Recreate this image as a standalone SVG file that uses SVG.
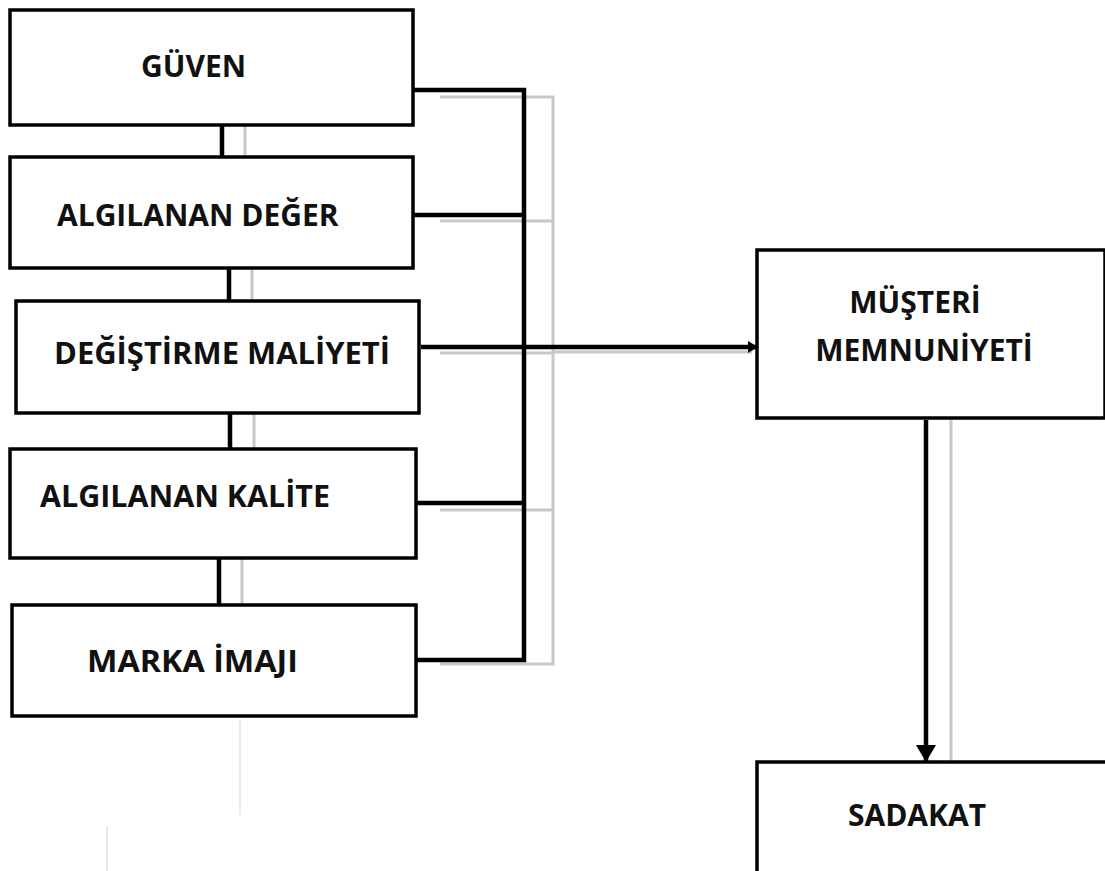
<svg xmlns="http://www.w3.org/2000/svg" width="1105" height="871" viewBox="0 0 1105 871">
<style>
.box{fill:#fff;stroke:#000;stroke-width:3.5}
.lbl{font-family:"Open Sans","Liberation Sans",sans-serif;font-weight:bold;font-size:30px;fill:#111}
.blk{stroke:#000;stroke-width:4.5;fill:none}
.gry{stroke:#c8c8c8;stroke-width:3;fill:none}
.faint{stroke:#e4e4e4;stroke-width:1.5;fill:none}
</style>
<defs>
<marker id="ahR" markerWidth="10" markerHeight="12" refX="9" refY="6" orient="auto" markerUnits="userSpaceOnUse">
<path d="M0,0 L10,6 L0,12 Z" fill="#000"/>
</marker>
<marker id="ahD" markerWidth="18" markerHeight="20" refX="16" refY="10" orient="auto" markerUnits="userSpaceOnUse">
<path d="M0,0 L17,10 L0,20 Z" fill="#000"/>
</marker>
</defs>
<rect width="1105" height="871" fill="#fff"/>
<g id="connectors">
<!-- gray shadow lines -->
<path class="gry" d="M245,125 V157 M252,268 V301 M254,413 V449 M242,558 V605"/>
<path class="gry" d="M440,97 H553 V664 H440 M440,221 H553 M440,353 H553 M440,510 H553"/>
<path class="gry" d="M553,352 H752" stroke="#dcdcdc"/>
<path class="gry" d="M951,420 V762"/>
<!-- black lines -->
<path class="blk" d="M222,125 V157 M229,268 V301 M230,413 V449 M219,558 V605"/>
<path class="blk" d="M413,90 H524 V660 H416 M413,215 H524 M421,347 H524 M416,503 H524"/>
<path class="blk" d="M524,347 H757" marker-end="url(#ahR)"/>
<path class="blk" d="M926,420 V761" marker-end="url(#ahD)"/>
<!-- faint artifacts -->
<path class="faint" d="M240,720 V815 M107,826 V871"/>
</g>
<g id="guven">
<rect class="box" x="10" y="10" width="403" height="115"/>
<text class="lbl" x="141" y="77">GÜVEN</text>
</g>
<g id="algilanan-deger">
<rect class="box" x="10" y="157" width="403" height="111"/>
<text class="lbl" x="57" y="226">ALGILANAN DEĞER</text>
</g>
<g id="degistirme-maliyeti">
<rect class="box" x="16" y="301" width="403" height="112"/>
<text class="lbl" x="54" y="364" textLength="336" lengthAdjust="spacingAndGlyphs">DEĞİŞTİRME MALİYETİ</text>
</g>
<g id="algilanan-kalite">
<rect class="box" x="10" y="449" width="406" height="109"/>
<text class="lbl" x="40" y="507" textLength="290" lengthAdjust="spacingAndGlyphs">ALGILANAN KALİTE</text>
</g>
<g id="marka-imaji">
<rect class="box" x="12" y="605" width="404" height="111"/>
<text class="lbl" x="87" y="672" textLength="211" lengthAdjust="spacingAndGlyphs">MARKA İMAJI</text>
</g>
<g id="musteri-memnuniyeti">
<rect class="box" x="757" y="250" width="348" height="168"/>
<text class="lbl" x="915" y="313" text-anchor="middle">MÜŞTERİ</text>
<text class="lbl" x="924" y="361" text-anchor="middle">MEMNUNİYETİ</text>
</g>
<g id="sadakat">
<rect class="box" x="757" y="762" width="350" height="112"/>
<text class="lbl" x="917" y="826" text-anchor="middle">SADAKAT</text>
</g>
</svg>
